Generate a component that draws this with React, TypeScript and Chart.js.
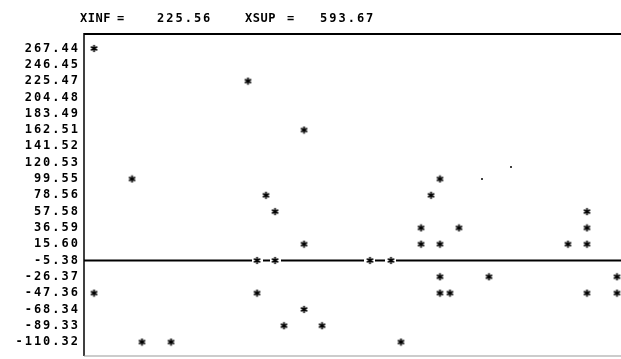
import React, { useEffect, useRef } from "react";
import { Chart, registerables } from "chart.js";

Chart.register(...registerables);

// ---- data ----
const X_INF = 225.56;
const X_SUP = 593.67;

const Y_TICKS = [
  267.44, 246.45, 225.47, 204.48, 183.49, 162.51, 141.52, 120.53, 99.55, 78.56,
  57.58, 36.59, 15.6, -5.38, -26.37, -47.36, -68.34, -89.33, -110.32,
];

const REF_LEVEL = -5.38;

const POINT_X = [
  225.56, 333.95, 373.37, 252.31, 469.09, 346.62, 462.77, 352.96, 572.55,
  455.72, 482.46, 572.55, 373.37, 455.72, 469.09, 559.18, 572.55,
  340.29, 352.96, 419.82, 434.6, 469.09, 503.58, 593.67,
  225.56, 340.29, 469.09, 476.13, 572.55, 593.67, 373.37, 359.29, 386.04,
  259.34, 279.76, 441.64,
];
const POINT_Y = [
  267.44, 225.47, 162.51, 99.55, 99.55, 78.56, 78.56, 57.58, 57.58,
  36.59, 36.59, 36.59, 15.6, 15.6, 15.6, 15.6, 15.6,
  -5.38, -5.38, -5.38, -5.38, -26.37, -26.37, -26.37,
  -47.36, -47.36, -47.36, -47.36, -47.36, -47.36, -68.34, -89.33, -89.33,
  -110.32, -110.32, -110.32,
];

const DOT_X = [498.65, 519.06];
const DOT_Y = [99.55, 115.0];

// axis limits
const X_MIN = 218.52;
const X_MAX = 596.49;
const Y_MIN = -128.3;
const Y_MAX = 286.1;

const FONT = "'DejaVu Sans Mono', 'Liberation Mono', monospace";

function makeAsterisk(): HTMLCanvasElement {
  const c = document.createElement("canvas");
  c.width = 11;
  c.height = 9;
  const g = c.getContext("2d")!;
  g.fillStyle = "#fff";
  g.fillRect(0, 0, 11, 9);
  g.strokeStyle = "#000";
  g.lineWidth = 1.7;
  const cx = 5.5;
  const cy = 4.5;
  const r = 3.6;
  for (const a of [90, 30, 150]) {
    const rad = (a * Math.PI) / 180;
    g.beginPath();
    g.moveTo(cx - r * Math.cos(rad), cy - r * Math.sin(rad));
    g.lineTo(cx + r * Math.cos(rad), cy + r * Math.sin(rad));
    g.stroke();
  }
  return c;
}

const framePlugin = {
  id: "frame",
  beforeDraw(chart: any) {
    (chart.ctx as any).letterSpacing = "2px";
  },
  beforeDatasetsDraw(chart: any) {
    const { ctx, chartArea, scales } = chart;
    const { left, right, top, bottom } = chartArea;
    ctx.save();
    ctx.letterSpacing = "0px";
    // reference line
    const yRef = scales.y.getPixelForValue(REF_LEVEL);
    ctx.strokeStyle = "#000";
    ctx.lineWidth = 1.8;
    ctx.beginPath();
    ctx.moveTo(left, yRef);
    ctx.lineTo(right, yRef);
    ctx.stroke();
    // top border
    ctx.lineWidth = 2;
    ctx.beginPath();
    ctx.moveTo(left, top);
    ctx.lineTo(right, top);
    ctx.stroke();
    // left axis
    ctx.lineWidth = 1.5;
    ctx.beginPath();
    ctx.moveTo(left, top - 1);
    ctx.lineTo(left, bottom);
    ctx.stroke();
    // bottom border (faint)
    ctx.strokeStyle = "#9a9a9a";
    ctx.lineWidth = 1.2;
    ctx.beginPath();
    ctx.moveTo(left, bottom);
    ctx.lineTo(right, bottom);
    ctx.stroke();
    ctx.restore();
  },
  afterDraw(chart: any) {
    const ctx = chart.ctx;
    ctx.save();
    ctx.fillStyle = "#000";
    ctx.font = `bold 12px ${FONT}`;
    ctx.textAlign = "left";
    ctx.textBaseline = "alphabetic";
    const base = 22;
    const pieces: [string, number, string][] = [
      ["XINF", 80, "0.5px"],
      ["=", 117, "0px"],
      [X_INF.toFixed(2), 157, "2px"],
      ["XSUP", 245, "0.5px"],
      ["=", 287, "0px"],
      [X_SUP.toFixed(2), 320, "2px"],
    ];
    for (const [t, x, ls] of pieces) {
      ctx.letterSpacing = ls;
      ctx.fillText(t, x, base);
    }
    ctx.restore();
  },
};

export default function App() {
  const ref = useRef<HTMLCanvasElement | null>(null);

  useEffect(() => {
    if (!ref.current) return;
    const star = makeAsterisk();
    const chart = new Chart(ref.current, {
      type: "scatter",
      data: {
        datasets: [
          {
            data: POINT_X.map((x, i) => ({ x, y: POINT_Y[i] })),
            pointStyle: star as any,
            pointRadius: 4.5,
            showLine: false,
            clip: false as any,
          },
          {
            data: DOT_X.map((x, i) => ({ x, y: DOT_Y[i] })),
            pointStyle: "circle",
            pointRadius: 1,
            backgroundColor: "#000",
            borderWidth: 0,
            showLine: false,
          },
        ],
      },
      options: {
        responsive: false,
        animation: false,
        events: [],
        layout: { autoPadding: false, padding: { top: 34, bottom: 3, left: 0, right: 0 } },
        plugins: {
          legend: { display: false },
          tooltip: { enabled: false },
          title: { display: false },
        },
        scales: {
          x: { type: "linear", display: false, min: X_MIN, max: X_MAX },
          y: {
            type: "linear",
            position: "left",
            min: Y_MIN,
            max: Y_MAX,
            grid: { display: false, drawTicks: false },
            border: { display: false },
            afterFit: (s: any) => {
              s.width = 84;
              s.paddingTop = 0;
              s.paddingBottom = 0;
              s.paddingLeft = 0;
              s.paddingRight = 0;
            },
            afterBuildTicks: (s: any) => {
              s.ticks = [...Y_TICKS].sort((a, b) => a - b).map((v) => ({ value: v }));
            },
            ticks: {
              autoSkip: false,
              padding: 4,
              color: "#000",
              font: { family: FONT, size: 12, weight: "bold" },
              callback: (v: any) => Number(v).toFixed(2),
            },
          },
        },
      },
      plugins: [framePlugin],
    });
    return () => chart.destroy();
  }, []);

  return (
    <div style={{ position: "fixed", left: 0, top: 0, width: 621, height: 359, background: "#fff" }}>
      <canvas ref={ref} width={621} height={359} style={{ display: "block" }} />
    </div>
  );
}
